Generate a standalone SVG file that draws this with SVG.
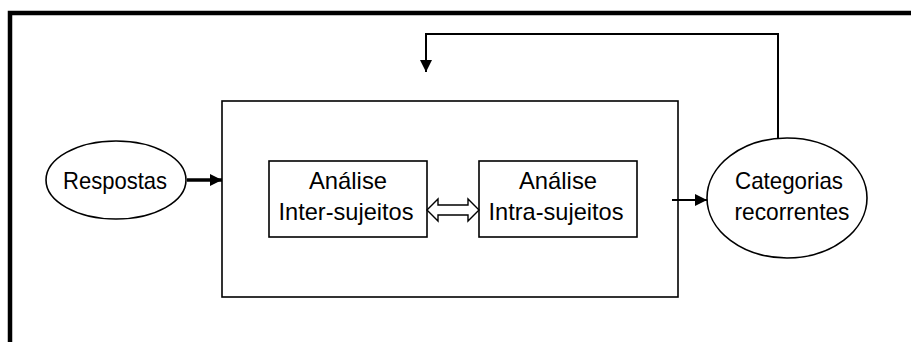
<svg xmlns="http://www.w3.org/2000/svg" width="911" height="342" viewBox="0 0 911 342">
<style>
.shape{fill:#fff;stroke:#000;stroke-width:1.6}
.lbl{font-family:"Liberation Sans",Arial,sans-serif;font-size:24px;fill:#000;text-anchor:middle}
.conn{fill:none;stroke:#000}
</style>
<defs>
<marker id="ah" viewBox="0 0 12 12" refX="12" refY="6" markerWidth="12" markerHeight="12" markerUnits="userSpaceOnUse" orient="auto">
<path d="M0,0 L12,6 L0,12 z" fill="#000"/>
</marker>
</defs>
<rect width="911" height="342" fill="#fff"/>
<path id="frame" d="M10,342 V13 H911" fill="none" stroke="#000" stroke-width="4.5"/>
<g id="main-box"><rect class="shape" x="222" y="101" width="456" height="196"/></g>
<g id="respostas">
<ellipse class="shape" cx="116" cy="180" rx="70" ry="39"/>
<text class="lbl" x="115" y="189" textLength="104" lengthAdjust="spacingAndGlyphs">Respostas</text>
</g>
<g id="inter">
<rect class="shape" x="269" y="161" width="158" height="76"/>
<text class="lbl" x="348" y="189" textLength="78" lengthAdjust="spacingAndGlyphs">Análise</text>
<text class="lbl" x="346" y="220" textLength="135" lengthAdjust="spacingAndGlyphs">Inter-sujeitos</text>
</g>
<g id="intra">
<rect class="shape" x="479" y="161" width="158" height="76"/>
<text class="lbl" x="558" y="189" textLength="78" lengthAdjust="spacingAndGlyphs">Análise</text>
<text class="lbl" x="556" y="220" textLength="135" lengthAdjust="spacingAndGlyphs">Intra-sujeitos</text>
</g>
<g id="categorias">
<ellipse class="shape" cx="787" cy="198" rx="80" ry="60"/>
<text class="lbl" x="789" y="189" textLength="108" lengthAdjust="spacingAndGlyphs">Categorias</text>
<text class="lbl" x="792" y="220" textLength="115" lengthAdjust="spacingAndGlyphs">recorrentes</text>
</g>
<g id="connectors">
<path class="conn" d="M187,180 H222" stroke-width="3.5" marker-end="url(#ah)"/>
<path class="conn" d="M672,200 H707" stroke-width="2" marker-end="url(#ah)"/>
<path class="conn" d="M778,138 V34 H426 V72" stroke-width="2" marker-end="url(#ah)"/>
<polygon points="427,210 438,199 438,205 468,205 468,199 479,210 468,221 468,215 438,215 438,221" fill="#fff" stroke="#000" stroke-width="1.4"/>
</g>
</svg>
